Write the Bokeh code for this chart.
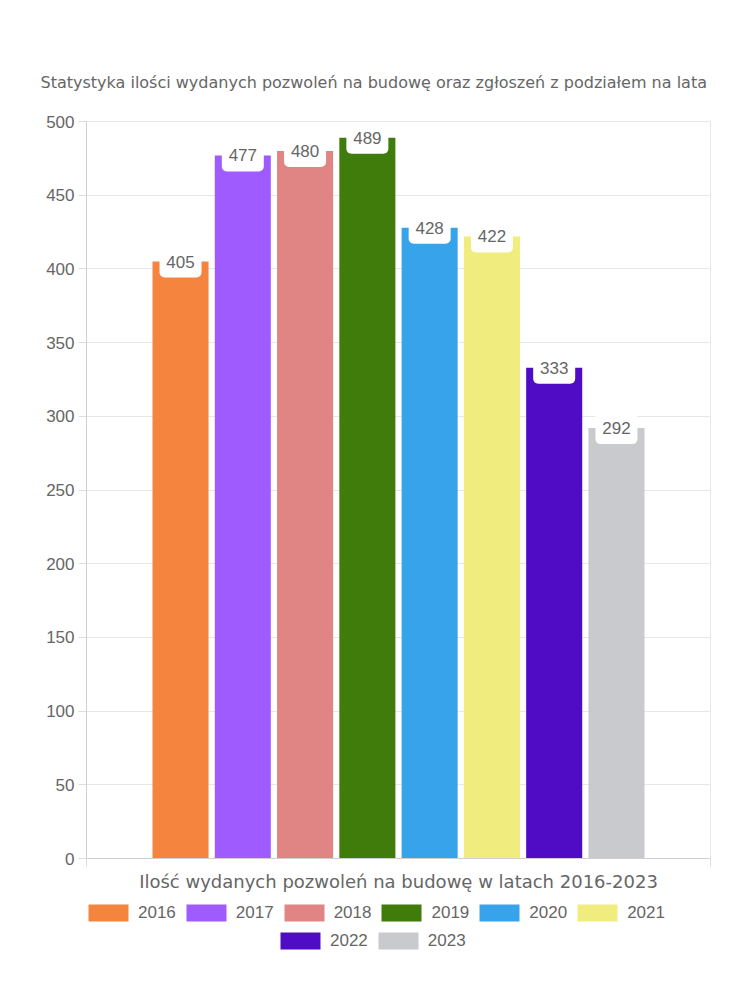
from bokeh.plotting import figure
from bokeh.layouts import column
from bokeh.models import (ColumnDataSource, Range1d, SingleIntervalTicker, FixedTicker,
                          Legend, LegendItem, CustomJSTickFormatter)
from bokeh.core.properties import value
from bokeh.embed import file_html
from bokeh.resources import INLINE

# ---- data ----
years = ["2016", "2017", "2018", "2019", "2020", "2021", "2022", "2023"]
permits = [405, 477, 480, 489, 428, 422, 333, 292]
colors = ["#F5843F", "#A05BFE", "#E18484", "#3F7C0C", "#36A3EA", "#F0EC7D", "#500CC4", "#C9CACE"]
title_text = "Statystyka ilości wydanych pozwoleń na budowę oraz zgłoszeń z podziałem na lata"
axis_text = "Ilość wydanych pozwoleń na budowę w latach 2016-2023"

idx = list(range(len(years)))
src = ColumnDataSource(dict(x=idx, v=permits, c=colors, lab=[str(v) for v in permits], yr=years))

TITLE_FONT = "DejaVu Sans"
NUM_FONT = "Liberation Sans"
GREY = "#666666"

p = figure(frame_width=624, frame_height=737, output_backend="svg", toolbar_location=None,
           x_range=Range1d(-1.51, 8.51), y_range=Range1d(0, 500),
           min_border_left=86, min_border_right=24, min_border_top=121, min_border_bottom=40,
           title=title_text)
p.title.align = "left"
p.title.offset = -46
p.title.standoff = 59
p.title.text_font = TITLE_FONT
p.title.text_font_size = "16px"
p.title.text_font_style = "normal"
p.title.text_color = GREY

bars = p.vbar(x="x", top="v", width=0.9, bottom=0, source=src, fill_color="c", line_color=None)

p.rect(x="x", y="v", width=42, height=32, width_units="screen", height_units="screen",
       source=src, fill_color="white", line_color=None, border_radius=(0, 0, 5, 5))
p.text(x="x", y="v", text="lab", source=src, text_align="center", text_baseline="middle",
       text_font=value(NUM_FONT), text_font_size="17px", text_color=GREY)

# axes
p.yaxis.ticker = SingleIntervalTicker(interval=50)
p.yaxis.major_tick_out = 8
p.yaxis.major_tick_in = 0
p.yaxis.minor_tick_line_color = None
p.yaxis.major_tick_line_color = "#dddddd"
p.yaxis.axis_line_color = "#d0d0d0"
p.yaxis.major_label_text_font = NUM_FONT
p.yaxis.major_label_text_font_size = "17px"
p.yaxis.major_label_text_color = GREY
p.yaxis.major_label_standoff = 4

p.xaxis.ticker = FixedTicker(ticks=[-1.51, 8.51])
p.xaxis.formatter = CustomJSTickFormatter(code="return ''")
p.xaxis.major_tick_out = 8
p.xaxis.major_tick_in = 0
p.xaxis.minor_tick_line_color = None
p.xaxis.major_tick_line_color = "#dddddd"
p.xaxis.axis_line_color = "#d0d0d0"
p.xaxis.axis_label = axis_text
p.xaxis.axis_label_text_font = TITLE_FONT
p.xaxis.axis_label_text_font_size = "18px"
p.xaxis.axis_label_text_font_style = "normal"
p.xaxis.axis_label_text_color = GREY
p.xaxis.axis_label_standoff = 4

p.xgrid.grid_line_color = None
p.ygrid.grid_line_color = "#e6e6e6"
p.outline_line_color = "#e6e6e6"

# ---- legend strip (separate figure, bars kept out of view) ----
lf = figure(frame_width=734, frame_height=70, output_backend="svg", toolbar_location=None,
            x_range=Range1d(-1.51, 8.51), y_range=Range1d(1000, 2000),
            x_axis_type=None, y_axis_type=None,
            min_border_left=0, min_border_right=0, min_border_top=0, min_border_bottom=0)
lf.grid.visible = False
lf.outline_line_color = None
lbars = lf.vbar(x="x", top="v", width=0.9, bottom=0, source=src, fill_color="c", line_color=None)

def make_legend(ids, loc):
    return Legend(items=[LegendItem(label=years[i], renderers=[lbars], index=i) for i in ids],
                  orientation="horizontal", location=loc,
                  glyph_width=50, glyph_height=21, label_standoff=5, spacing=5,
                  padding=0, margin=0, border_line_color=None, background_fill_alpha=0,
                  label_text_font=NUM_FONT, label_text_font_size="17px", label_text_color=GREY,
                  label_height=21)

lf.add_layout(make_legend(idx[:6], (83, 45)))
lf.add_layout(make_legend(idx[6:], (275, 17)))

layout = column(p, lf, spacing=0)
open("out.html", "w").write(file_html(layout, INLINE))
